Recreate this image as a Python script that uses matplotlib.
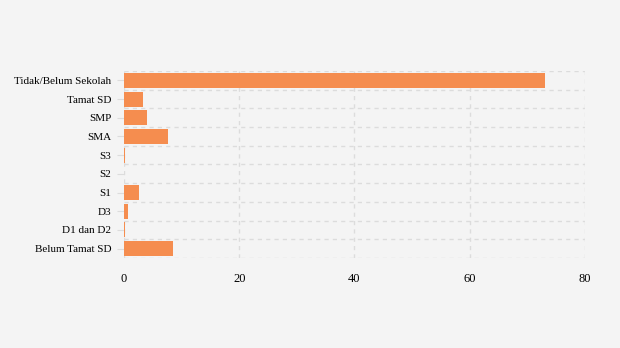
import numpy as np
import matplotlib.pyplot as plt

categories = ['Tidak/Belum Sekolah', 'Tamat SD', 'SMP', 'SMA', 'S3', 'S2',
              'S1', 'D3', 'D1 dan D2', 'Belum Tamat SD']
values = [73.1, 3.3, 4.0, 7.6, 0.2, 0.05, 2.6, 0.65, 0.15, 8.5]
x_ticks = [0, 20, 40, 60, 80]

bg = '#f4f4f4'
plt.rcParams['font.family'] = ['Liberation Serif', 'DejaVu Serif']

fig = plt.figure(figsize=(6.2, 3.48), dpi=100, facecolor=bg)
ax = fig.add_axes([0.2, 0.2586, 0.7435, 0.5374], facecolor=bg)

y = np.arange(len(categories))
ax.barh(y, values, height=0.8, color='#f58d4f', zorder=3)

ax.set_xlim(0, 80)
ax.set_ylim(len(categories) - 0.5, -0.5)
ax.set_xticks(x_ticks)
ax.set_yticks(y)
ax.set_yticklabels(categories)
ax.set_yticks(np.arange(-0.5, len(categories), 1), minor=True)

for s in ax.spines.values():
    s.set_visible(False)

ax.grid(axis='x', which='major', color='#dcdcdc', linestyle=(0, (3, 3)), linewidth=1, zorder=0)
ax.grid(axis='y', which='minor', color='#dcdcdc', linestyle=(0, (3, 3)), linewidth=1, zorder=0)
ax.tick_params(axis='y', which='major', length=5, color='#dcdcdc', labelsize=8, pad=4)
ax.tick_params(axis='y', which='minor', length=0)
ax.tick_params(axis='x', length=0, labelsize=9, pad=11)

fig.savefig('out.png', dpi=100, facecolor=bg)
